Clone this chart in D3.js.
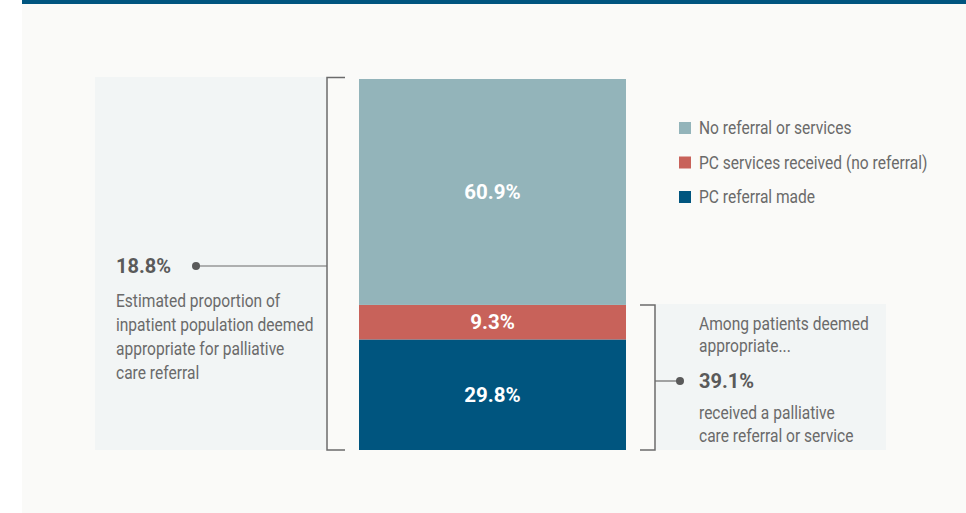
<!DOCTYPE html>
<html>
<head>
<meta charset="utf-8">
<script src="https://cdn.jsdelivr.net/npm/d3@7"></script>
<style>
  body { margin: 0; background: #ffffff; }
  svg { display: block; }
</style>
</head>
<body>
<div id="chart"></div>
<script>
// Stacked share of patients deemed appropriate for palliative care
const categories = ["PC referral made", "PC services received (no referral)", "No referral or services"];
const values = [29.8, 9.3, 60.9];
const colors = ["#00557f", "#c8625a", "#93b4ba"];
const legendOrder = ["No referral or services", "PC services received (no referral)", "PC referral made"];

const leftStat = "18.8%";
const leftText = ["Estimated proportion of", "inpatient population deemed", "appropriate for palliative", "care referral"];
const rightIntro = ["Among patients deemed", "appropriate..."];
const rightStat = "39.1%";
const rightText = ["received a palliative", "care referral or service"];

const W = 966, H = 513;
const bodyFont = "Roboto, 'Liberation Sans', Arial, sans-serif";
const squeeze = 0.865;   // narrow the regular text, no condensed face installed

const svg = d3.select("#chart").append("svg")
    .attr("width", W)
    .attr("height", H);

// Page panel and top rule
svg.append("rect")
    .attr("x", 22).attr("y", 0)
    .attr("width", W - 22).attr("height", H)
    .attr("fill", "#fafaf8");
svg.append("rect")
    .attr("x", 22).attr("y", 0)
    .attr("width", W - 22).attr("height", 4)
    .attr("fill", "#00557f");

// Scales
const y = d3.scaleLinear().domain([0, 100]).range([450, 79]);
const barX = 359, barW = 267;

// Stack the segments
let acc = 0;
const stacked = values.map((v, i) => {
    const d = { name: categories[i], value: v, y0: acc, y1: acc + v, color: colors[i] };
    acc += v;
    return d;
});

function narrowText(parent, x, yPos, str) {
    return parent.append("text")
        .attr("transform", `translate(${x},${yPos}) scale(${squeeze},1)`)
        .attr("dy", "0.35em")
        .attr("font-family", bodyFont)
        .attr("font-size", "18px")
        .attr("fill", "#6a6a6a")
        .text(str);
}

function statText(x, yPos, str) {
    return svg.append("text")
        .attr("x", x).attr("y", yPos)
        .attr("dy", "0.35em")
        .attr("font-family", bodyFont)
        .attr("font-size", "20px")
        .attr("font-weight", "bold")
        .attr("fill", "#5a5a5a")
        .text(str);
}

// Side panels
svg.append("rect")
    .attr("x", 95).attr("y", 77)
    .attr("width", 231).attr("height", 373)
    .attr("fill", "#f2f5f5");
svg.append("rect")
    .attr("x", 656).attr("y", y(stacked[1].y1) - 1)
    .attr("width", 230).attr("height", 450 - y(stacked[1].y1) + 1)
    .attr("fill", "#f2f5f5");

// Bars
svg.selectAll("rect.seg")
    .data(stacked)
    .join("rect")
    .attr("class", "seg")
    .attr("x", barX)
    .attr("y", d => y(d.y1))
    .attr("width", barW)
    .attr("height", d => y(d.y0) - y(d.y1))
    .attr("fill", d => d.color);

svg.selectAll("text.seg-label")
    .data(stacked)
    .join("text")
    .attr("class", "seg-label")
    .attr("x", barX + barW / 2)
    .attr("y", d => (y(d.y0) + y(d.y1)) / 2)
    .attr("dy", "0.35em")
    .attr("text-anchor", "middle")
    .attr("font-family", bodyFont)
    .attr("font-size", "20.5px")
    .attr("font-weight", "bold")
    .attr("fill", "#ffffff")
    .text(d => d.value.toFixed(1) + "%");

// Left bracket
const lineColor = "#6b6b6b";
svg.append("path")
    .attr("d", `M345,${y(100) - 1.5} H327 V${y(0)} H345`)
    .attr("fill", "none")
    .attr("stroke", lineColor)
    .attr("stroke-width", 1.5);
svg.append("line")
    .attr("x1", 196).attr("x2", 327)
    .attr("y1", 266).attr("y2", 266)
    .attr("stroke", lineColor).attr("stroke-width", 1.2);
svg.append("circle")
    .attr("cx", 196).attr("cy", 266).attr("r", 4)
    .attr("fill", "#5a5a5a");

statText(116, 266, leftStat);
const leftG = svg.append("g");
leftText.forEach((t, i) => narrowText(leftG, 116, 301 + i * 24, t));

// Right bracket
const rTop = y(stacked[1].y1);
svg.append("path")
    .attr("d", `M640,${rTop} H655 V${y(0)} H640`)
    .attr("fill", "none")
    .attr("stroke", lineColor)
    .attr("stroke-width", 1.5);
svg.append("line")
    .attr("x1", 655).attr("x2", 680)
    .attr("y1", 381).attr("y2", 381)
    .attr("stroke", lineColor).attr("stroke-width", 1.2);
svg.append("circle")
    .attr("cx", 680).attr("cy", 381).attr("r", 4)
    .attr("fill", "#5a5a5a");

const rightG = svg.append("g");
rightIntro.forEach((t, i) => narrowText(rightG, 699, 324 + i * 22, t));
statText(699, 381, rightStat);
rightText.forEach((t, i) => narrowText(rightG, 699, 413 + i * 23, t));

// Legend
const colorOf = d3.scaleOrdinal().domain(categories).range(colors);
const legend = svg.append("g").attr("transform", "translate(679,128)");
legendOrder.forEach((name, i) => {
    const row = legend.append("g").attr("transform", `translate(0,${i * 34.5})`);
    row.append("rect")
        .attr("x", 0).attr("y", -6)
        .attr("width", 12).attr("height", 12)
        .attr("fill", colorOf(name));
    narrowText(row, 20, 0, name);
});
</script>
</body>
</html>
